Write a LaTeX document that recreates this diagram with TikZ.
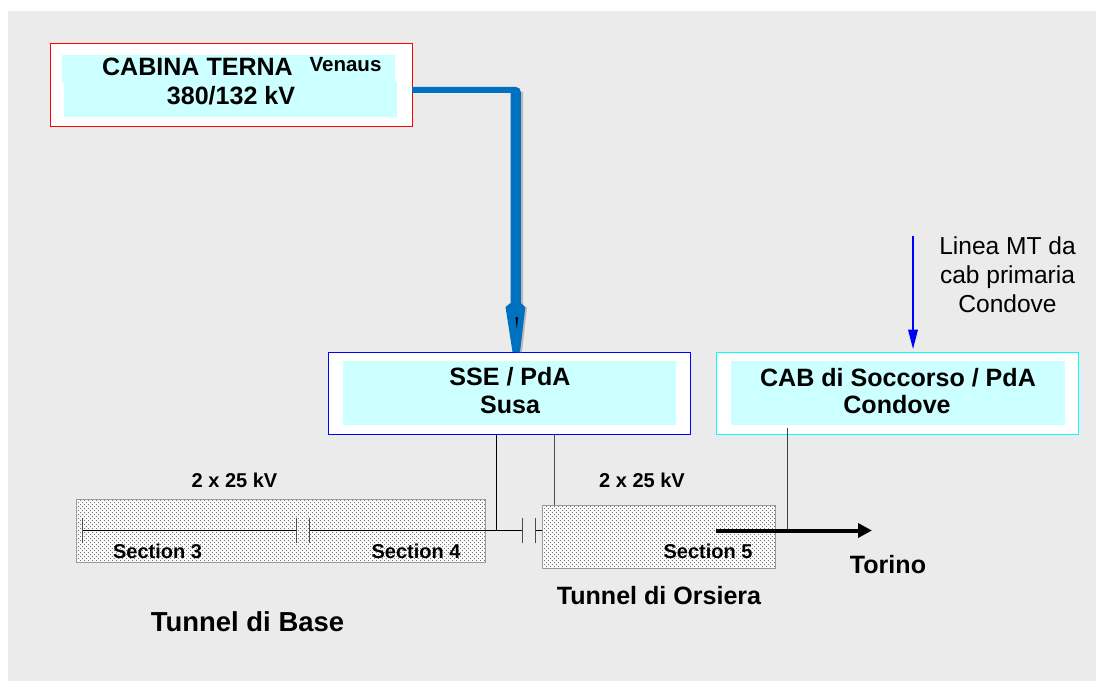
\documentclass[tikz,border=0pt]{standalone}
\usepackage{fontspec}
\setmainfont{Liberation Sans}
\usepackage{tikz}
\usetikzlibrary{arrows.meta,calc,positioning,patterns}
\definecolor{panelgray}{RGB}{235,235,235}
\definecolor{boxcyan}{RGB}{204,255,255}
\definecolor{linecyan}{RGB}{0,255,255}
\definecolor{linered}{RGB}{255,0,0}
\definecolor{lineblue}{RGB}{0,0,255}
\definecolor{feedblue}{RGB}{0,112,192}
\definecolor{shadegray}{RGB}{185,185,185}
\pgfdeclarepatternformonly{tunneldots}{\pgfqpoint{-1pt}{-1pt}}{\pgfqpoint{3pt}{3pt}}{\pgfqpoint{3pt}{3pt}}{
 \pgfpathrectangle{\pgfqpoint{0pt}{0pt}}{\pgfqpoint{.6pt}{.6pt}}
 \pgfpathrectangle{\pgfqpoint{1.5pt}{1.5pt}}{\pgfqpoint{.6pt}{.6pt}}
 \pgfusepath{fill}}
\tikzset{
 station/.style={draw=#1,fill=white,line width=.75pt,inner sep=0pt},
 tunnel/.style={draw=gray!80,line width=.7pt,pattern=tunneldots,pattern color=black!55},
 wire/.style={black,line width=.75pt},
 heading/.style={font=\bfseries\fontsize{18.8pt}{21pt}\selectfont,align=center,inner sep=0pt},
 small/.style={font=\bfseries\fontsize{15pt}{18pt}\selectfont,inner sep=0pt},
}
\begin{document}
\begin{tikzpicture}[x=.75pt,y=-.75pt,line cap=butt,line join=miter]
 \useasboundingbox (0,0) rectangle (1096,681);
 \fill[panelgray] (8,11) rectangle (1096,681);
 % stations
 \node[station=linered,anchor=north west,minimum width=271.5pt,minimum height=62.2pt] (terna) at (49.5,43) {};
 \node[station=lineblue,anchor=north west,minimum width=271.5pt,minimum height=61.7pt] (sse) at (328.4,352) {};
 \node[station=linecyan,anchor=north west,minimum width=271.5pt,minimum height=61.7pt] (cab) at (716.4,352) {};
 \fill[boxcyan] (62,55) rectangle (395,83);
 \fill[boxcyan] (64,81) rectangle (397,117);
 \fill[boxcyan] (343,361) rectangle (676,425);
 \fill[boxcyan] (731,361) rectangle (1065,425);
 % tunnels
 \fill[white!70!panelgray] (76,499) rectangle (485,562);
 \fill[white!70!panelgray] (542,505) rectangle (776,568);
 \node[tunnel,anchor=north west,minimum width=306.4pt,minimum height=47.2pt] (base) at (76,498.7) {};
 \node[tunnel,anchor=north west,minimum width=175.2pt,minimum height=47.2pt] (orsiera) at (541.7,504.7) {};
 % labels
 \node[heading] (ternaname) at (197.5,67) {CABINA TERNA};
 \node[small,font=\bfseries\fontsize{15.4pt}{18pt}\selectfont] (venaus) at (345.5,64.5) {Venaus};
 \node[heading] (ternavolt) at (231,96) {380/132 kV};
 \node[heading] (ssename) at (510,376.5) {SSE / PdA};
 \node[heading] (susa) at (510,405) {Susa};
 \node[heading] (cabname) at (898,377.5) {CAB di Soccorso / PdA};
 \node[heading] (condove) at (897,405) {Condove};
 \node[font=\fontsize{18.4pt}{21.6pt}\selectfont,align=center,inner sep=0pt] (mtline) at (1007.5,274.5) {Linea MT da\\cab primaria\\Condove};
 \node[small] (volta) at (234.5,480) {2 x 25 kV};
 \node[small] (voltb) at (642,480) {2 x 25 kV};
 \node[small] (sect3) at (157.5,551) {Section 3};
 \node[small] (sect4) at (416,551) {Section 4};
 \node[small] (sect5) at (708,551) {Section 5};
 \node[heading] (torino) at (888,565) {Torino};
 \node[heading,font=\bfseries\fontsize{20.6pt}{24pt}\selectfont] (basename) at (247.5,622) {Tunnel di Base};
 \node[heading] (orsname) at (659,596) {Tunnel di Orsiera};
 % wiring
 \coordinate (busleft) at (82.5,530.5);
 \coordinate (gapaL) at (296,530.5);
 \coordinate (gapaR) at (309,530.5);
 \coordinate (gapbL) at (522,530.5);
 \coordinate (gapbR) at (535.3,530.5);
 \coordinate (ssedrop) at (496.8,530.5);
 \coordinate (ssedropb) at (554.8,505);
 \coordinate (cabstart) at (787.8,428);
 \coordinate (cabdrop) at (787.8,530.5);
 \coordinate (mtstart) at (913,236);
 \coordinate (mtend) at (913,349.5);
 \coordinate (arrowstart) at (716,530.5);
 \coordinate (arrowend) at (872,530.5);
 \draw[wire] (busleft) -- (gapaL);
 \draw[wire] (gapaR) -- (ssedrop) -- (gapbL);
 \draw[wire] (gapbR) -- (orsiera.west |- gapbR);
 \draw[wire] (sse.south -| ssedrop) -- (ssedrop);
 \draw[wire,black!70] (sse.south -| ssedropb) -- (ssedropb);
 \draw[wire,black!75] (cabstart) -- (cabdrop);
 \foreach \gap in {busleft,gapaL,gapaR,gapbL,gapbR}
  \draw[wire,black!70] ($(\gap)+(0,-12.5)$) -- ($(\gap)+(0,12.5)$);
 \draw[black,line width=3pt,-{Stealth[length=10.5pt,width=10.5pt,inset=0pt]}] (arrowstart) -- (arrowend);
 \draw[lineblue,line width=2pt,-{Stealth[length=15pt,width=7pt,inset=0pt]}] (mtstart) -- (mtend);
 % main feed
 \fill[shadegray] (521,92) -- (523,92) -- (523,307) -- (527,307) -- (522,352) -- (518,352) -- cycle;
 \fill[feedblue] (412,87) -- (516,87) arc (-90:0:4.8) -- (520.8,303) -- (510.6,303) -- (510.6,93) -- (412,93) -- cycle;
 \fill[feedblue] (510.6,303) -- (505.5,307) -- (512.5,352) -- (520,352) -- (525.3,307) -- (520.8,303) -- cycle;
 \fill[black] (515.5,317) -- (518,317) -- (516.8,329) -- cycle;
\end{tikzpicture}
\end{document}
